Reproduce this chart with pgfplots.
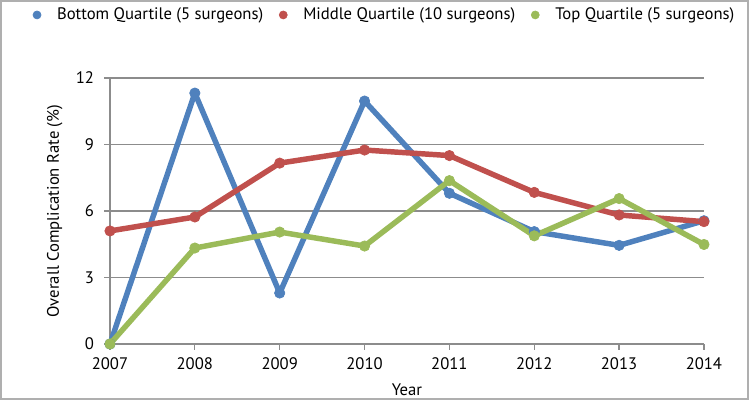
\documentclass[border=0pt]{standalone}
\usepackage{pgfplots}
\pgfplotsset{compat=1.18}
\usepackage{fontspec}
\setmainfont{PT Sans}
\definecolor{cblue}{HTML}{4F81BD}
\definecolor{cred}{HTML}{C0504D}
\definecolor{cgreen}{HTML}{9BBB59}
\definecolor{gridc}{HTML}{8C8C8C}
\begin{document}
\begin{tikzpicture}[x=0.75pt,y=0.75pt]
\useasboundingbox (-110,-63) rectangle (641,344);
\draw[color=gridc!70, line width=0.9pt] (-109,-55) rectangle (638,343);
\begin{axis}[
  at={(0,0)}, anchor=south west,
  scale only axis, width=445.5pt, height=199.5pt,
  xmin=2007, xmax=2014, ymin=0, ymax=12,
  xtick={2007,...,2014}, ytick={0,3,6,9,12},
  xticklabel style={/pgf/number format/1000 sep={}, yshift=-2pt},
  yticklabel style={xshift=-4pt},
  /pgf/number format/assume math mode=true,
  tick label style={font=\fontsize{12.5}{14}\selectfont, text=black},
  ymajorgrids, grid style={gridc, line width=0.9pt},
  axis x line*=bottom, axis y line*=left,
  axis line style={gridc, line width=0.9pt, -},
  tick style={gridc, line width=0.9pt},
  tick align=outside, major tick length=4.5pt,
  xtick pos=bottom, ytick pos=left,
  xlabel={Year}, ylabel={Overall Complication Rate (\%)},
  label style={font=\fontsize{12.5}{14}\selectfont},
  xlabel style={yshift=-4pt},
  ylabel style={yshift=3pt},
  clip=false,
  legend columns=3,
  legend style={at={(0.463,1.237)}, anchor=center, draw=none, fill=none,
    font=\fontsize{12.5}{14}\selectfont, column sep=10pt},
  legend image code/.code={\draw[#1, mark size=3pt] plot coordinates {(0.2cm,0cm)};},
  every axis plot/.append style={line width=4.1pt, mark=*, mark size=3.9pt, line join=round},
]
\addplot[cblue, mark options={fill=cblue, draw=cblue, line width=0.5pt}] coordinates {
(2007,0) (2008,11.32) (2009,2.3) (2010,10.96) (2011,6.8) (2012,5.07) (2013,4.45) (2014,5.56)};
\addlegendentry{Bottom Quartile (5 surgeons)}
\addplot[cred, mark options={fill=cred, draw=cred, line width=0.5pt}] coordinates {
(2007,5.1) (2008,5.73) (2009,8.16) (2010,8.75) (2011,8.5) (2012,6.84) (2013,5.82) (2014,5.52)};
\addlegendentry{Middle Quartile (10 surgeons)}
\addplot[cgreen, mark options={fill=cgreen, draw=cgreen, line width=0.5pt}] coordinates {
(2007,0) (2008,4.33) (2009,5.05) (2010,4.42) (2011,7.37) (2012,4.88) (2013,6.56) (2014,4.49)};
\addlegendentry{Top Quartile (5 surgeons)}
\end{axis}
\end{tikzpicture}
\end{document}
